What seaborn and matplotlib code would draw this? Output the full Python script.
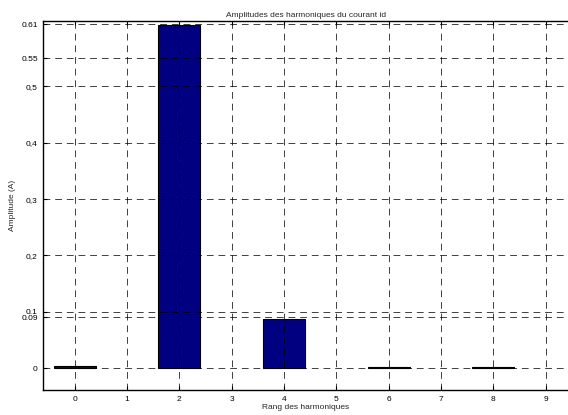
import matplotlib
matplotlib.use("Agg")
import matplotlib.pyplot as plt
import seaborn as sns
import pandas as pd

harmonics = [0, 1, 2, 3, 4, 5, 6, 7, 8, 9]
amplitudes = [0.003, 0.0, 0.6085, 0.0, 0.0876, 0.0, 0.001, 0.0, 0.0012, 0.0]
yticks = [0, 0.09, 0.1, 0.2, 0.3, 0.4, 0.5, 0.55, 0.61]
yticklabels = ["0", "0.09", "0.1", "0,2", "0,3", "0,4", "0,5", "0.55", "0.61"]
title = "Amplitudes des harmoniques du courant id"
xlabel = "Rang des harmoniques"
ylabel = "Amplitude (A)"

sns.set_style("ticks")
plt.rcParams['font.family'] = ['Liberation Sans', 'DejaVu Sans']

df = pd.DataFrame({"rang": harmonics, "amp": amplitudes})

fig = plt.figure(figsize=(5.68, 4.15), dpi=100)
ax = fig.add_axes([0.0763, 0.0602, 0.9237, 0.889])

sns.barplot(data=df, x="rang", y="amp", color="#000080", saturation=1,
            edgecolor="black", linewidth=0.8, width=0.8, ax=ax, zorder=1)

for p in ax.patches:
    if p.get_height() == 0:
        p.set_linewidth(0)

ax.set_xlim(-0.6, 9.43)
ax.set_ylim(-0.039, 0.616)
ax.set_yticks(yticks)
ax.set_yticklabels(yticklabels)
ax.set_xticks(range(len(harmonics)))
ax.set_xticklabels([str(h) for h in harmonics])

ax.grid(True, which="major", linestyle=(0, (7, 5)), color="black",
        linewidth=0.7, alpha=0.75)
ax.set_axisbelow(False)

for s in ["left", "bottom", "top"]:
    ax.spines[s].set_visible(True)
    ax.spines[s].set_linewidth(1.0)
    ax.spines[s].set_color("black")
ax.spines["right"].set_visible(False)

ax.tick_params(axis="both", direction="in", length=3, width=0.8,
               labelsize=6, colors="black", top=True, pad=4)
ax.set_title(title, fontsize=6, pad=3)
ax.set_xlabel(xlabel, fontsize=6, labelpad=1)
ax.set_ylabel(ylabel, fontsize=6, labelpad=4)

fig.savefig("out.png", dpi=100)
